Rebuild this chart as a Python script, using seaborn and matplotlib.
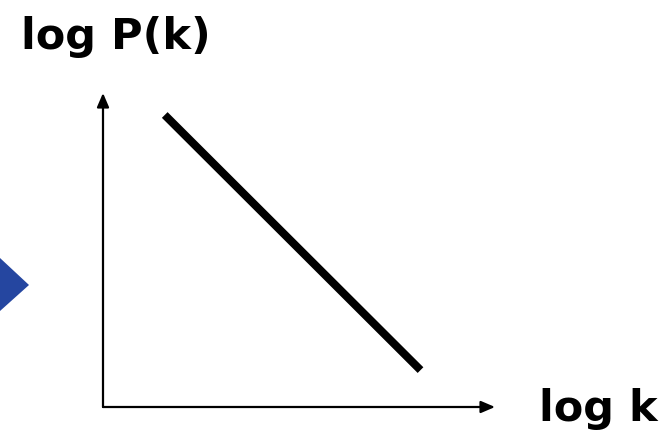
import matplotlib
matplotlib.use("Agg")
import matplotlib.pyplot as plt
import seaborn as sns
import pandas as pd
from matplotlib.patches import Polygon

sns.set_theme(style="white")
plt.rcParams['font.family'] = ['DejaVu Sans']

# power-law schematic: straight line on log-log axes
log_k = [0.63, 3.24]
log_pk = [3.72, 0.47]
x_label = "log k"
y_label = "log P(k)"

df = pd.DataFrame({"log_k": log_k, "log_pk": log_pk})

W, H = 670, 441
fig = plt.figure(figsize=(W / 100, H / 100), dpi=100)
fig.patch.set_facecolor("white")

# axes box: origin at (103, 407) px, arrows end at x=495 / y=93
ax = fig.add_axes([103 / W, (H - 407) / H, (495 - 103) / W, (407 - 93) / H])
ax.set_xlim(0, 4)
ax.set_ylim(0, 4)
ax.axis("off")

sns.lineplot(data=df, x="log_k", y="log_pk", ax=ax, color="black",
             linewidth=5.8, solid_capstyle="butt")

arrow = dict(arrowstyle="-|>,head_length=0.7,head_width=0.3", color="black",
             lw=1.6, shrinkA=0, shrinkB=0)
ax.annotate("", xy=(1, 0), xytext=(0, 0), xycoords="axes fraction",
            textcoords="axes fraction", arrowprops=arrow, annotation_clip=False)
ax.annotate("", xy=(0, 1), xytext=(0, 0), xycoords="axes fraction",
            textcoords="axes fraction", arrowprops=arrow, annotation_clip=False)

fig.text(21 / W, 1 - 37 / H, y_label, fontsize=31, fontweight="bold",
         ha="left", va="center", color="black")
fig.text(539 / W, 1 - 409 / H, x_label, fontsize=31, fontweight="bold",
         ha="left", va="center", color="black")

# blue arrowhead cut by the left edge
tri = Polygon([(0, 1 - 258 / H), (29 / W, 1 - 285 / H), (0, 1 - 311 / H)],
              closed=True, transform=fig.transFigure, facecolor="#2546a0",
              edgecolor="none")
fig.patches.append(tri)

fig.savefig("out.png", dpi=100)
